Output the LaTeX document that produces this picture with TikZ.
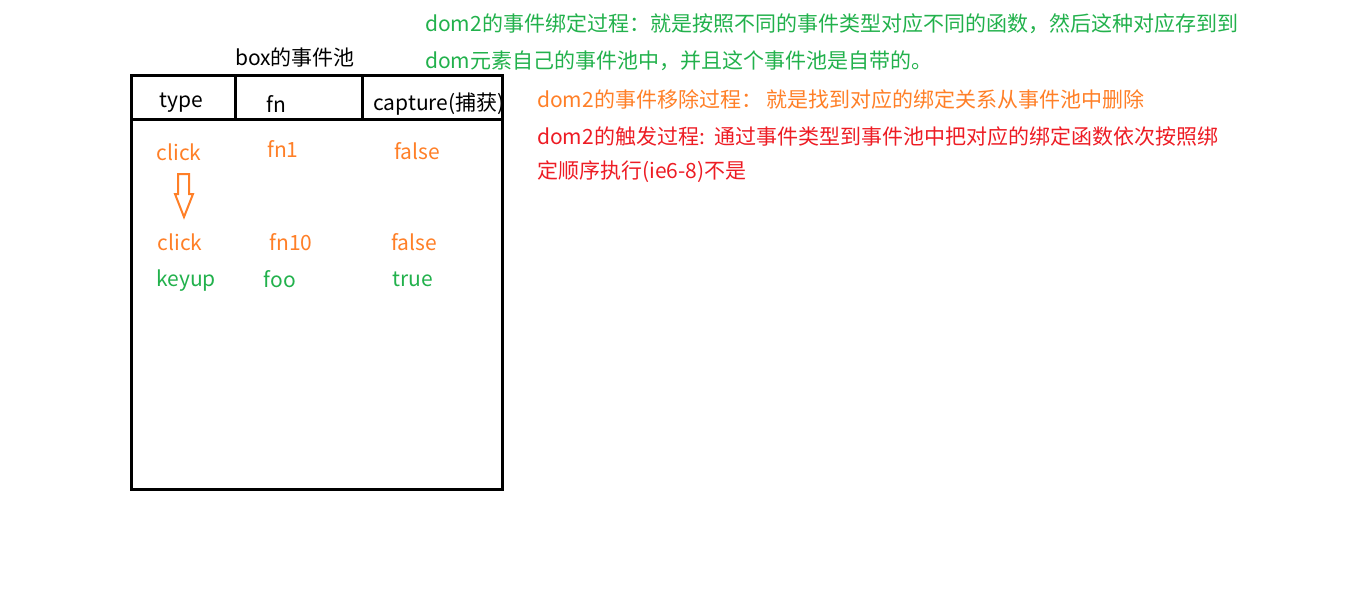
\documentclass[tikz,border=0pt]{standalone}
\usepackage{fontspec}
\setmainfont{Noto Sans CJK SC}
\definecolor{pgreen}{HTML}{22B14C}
\definecolor{porange}{HTML}{FF7F27}
\definecolor{pred}{HTML}{ED1C24}
\begin{document}
\begin{tikzpicture}[x=1pt,y=-1pt,
  hdr/.style={font=\fontsize{21}{23}\selectfont, inner sep=0pt},
  cell/.style={font=\fontsize{21}{23}\selectfont, inner sep=0pt},
  note/.style={font=\fontsize{21}{24}\selectfont, inner sep=0pt, anchor=west},
  frame/.style={line width=3pt}]
\useasboundingbox (0,0) rectangle (1360,591);
% table frame
\draw[frame] (131,76) rectangle (502,489);
\draw[frame] (131,120) -- (502,120);
\draw[frame] (235,76) -- (235,120);
\draw[frame] (362,76) -- (362,120);
% title and headers
\node[hdr] (title) at (295,58) {box的事件池};
\node[hdr] (htype) at (181,103) {type};
\node[hdr] (hfn) at (276,104) {fn};
\begin{scope}
\clip (362,78) rectangle (506,118);
\node[hdr, anchor=west] (hcap) at (373,104) {capture(捕获)};
\end{scope}
\draw[frame] (502,76) -- (502,120);
% rows
\node[cell, text=porange] (c1) at (179,152) {click};
\node[cell, text=porange] (f1) at (283,149) {fn1};
\node[cell, text=porange] (b1) at (417,151) {false};
\node[cell, text=porange] (c2) at (180,242) {click};
\node[cell, text=porange] (f2) at (291,242) {fn10};
\node[cell, text=porange] (b2) at (414,242) {false};
\node[cell, text=pgreen] (c3) at (186,281) {keyup};
\node[cell, text=pgreen] (f3) at (280,279) {foo};
\node[cell, text=pgreen] (b3) at (413,279) {true};
% hollow arrow
\draw[porange, line width=2pt, line join=miter]
  (178,174) -- (189,174) -- (189,194) -- (193,194) -- (184,217) -- (175,194) -- (178,194) -- cycle;
% notes
\node[note, text=pgreen] (g1) at (425,24) {dom2的事件绑定过程：就是按照不同的事件类型对应不同的函数，然后这种对应存到到};
\node[note, text=pgreen] (g2) at (425,61) {dom元素自己的事件池中，并且这个事件池是自带的。};
\node[note, text=porange] (o1) at (537,100) {dom2的事件移除过程： 就是找到对应的绑定关系从事件池中删除};
\node[note, text=pred] (r1) at (537,137) {dom2的触发过程:\hspace{10pt}通过事件类型到事件池中把对应的绑定函数依次按照绑};
\node[note, text=pred] (r2) at (537,172) {定顺序执行(ie6-8)不是};
\end{tikzpicture}
\end{document}
